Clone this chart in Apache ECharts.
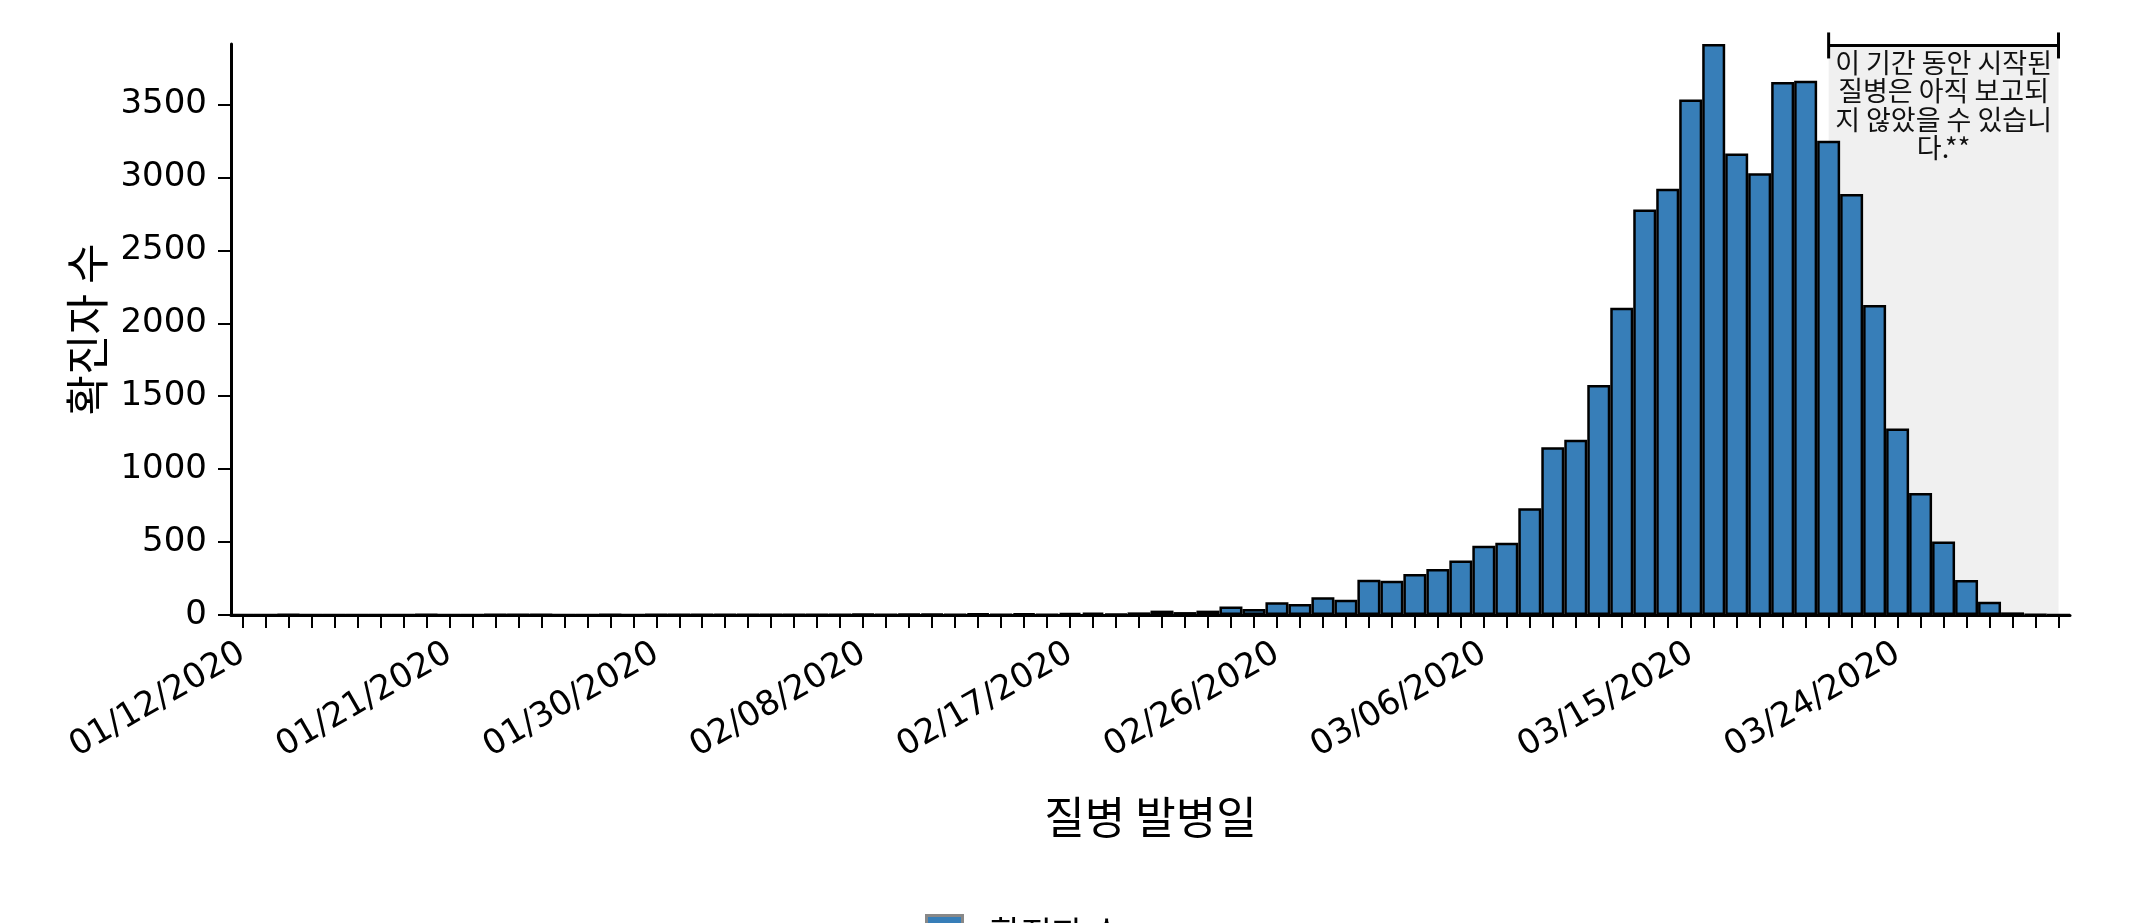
<!DOCTYPE html>
<html>
<head>
<meta charset="utf-8">
<script src="https://cdn.jsdelivr.net/npm/echarts@6/dist/echarts.min.js"></script>
<style>
  html, body { margin: 0; padding: 0; background: #ffffff; }
  #chart { width: 2150px; height: 923px; }
</style>
</head>
<body>
<div id="chart"></div>
<script>
// ---- data ----
const categories = [
  '01/12/2020','01/13/2020','01/14/2020','01/15/2020','01/16/2020','01/17/2020','01/18/2020','01/19/2020','01/20/2020','01/21/2020',
  '01/22/2020','01/23/2020','01/24/2020','01/25/2020','01/26/2020','01/27/2020','01/28/2020','01/29/2020','01/30/2020','01/31/2020',
  '02/01/2020','02/02/2020','02/03/2020','02/04/2020','02/05/2020','02/06/2020','02/07/2020','02/08/2020','02/09/2020','02/10/2020',
  '02/11/2020','02/12/2020','02/13/2020','02/14/2020','02/15/2020','02/16/2020','02/17/2020','02/18/2020','02/19/2020','02/20/2020',
  '02/21/2020','02/22/2020','02/23/2020','02/24/2020','02/25/2020','02/26/2020','02/27/2020','02/28/2020','02/29/2020','03/01/2020',
  '03/02/2020','03/03/2020','03/04/2020','03/05/2020','03/06/2020','03/07/2020','03/08/2020','03/09/2020','03/10/2020','03/11/2020',
  '03/12/2020','03/13/2020','03/14/2020','03/15/2020','03/16/2020','03/17/2020','03/18/2020','03/19/2020','03/20/2020','03/21/2020',
  '03/22/2020','03/23/2020','03/24/2020','03/25/2020','03/26/2020','03/27/2020','03/28/2020','03/29/2020','03/30/2020','03/31/2020'
];
const caseCounts = [
  1, 0, 3, 1, 1, 1, 0, 1, 2, 1,
  1, 2, 3, 3, 1, 1, 2, 1, 2, 2,
  4, 5, 2, 2, 2, 3, 3, 6, 4, 7,
  8, 4, 9, 5, 10, 3, 14, 16, 7, 18,
  30, 20, 30, 59, 41, 87, 75, 121, 105, 242,
  235, 281, 315, 374, 474, 496, 732, 1150, 1202, 1577,
  2107, 2781, 2923, 3535, 3915, 3165, 3029, 3655, 3663, 3251,
  2886, 2126, 1278, 837, 504, 240, 90, 18, 3, 0
];
const seriesName = '확진자 수';
const xAxisTitle = '질병 발병일';
const yAxisTitle = '확진자 수';
const yTickInterval = 500;
const pendingStart = '03/21/2020';
const pendingEnd = '03/31/2020';
const pendingNote = '이 기간 동안 시작된\n질병은 아직 보고되\n지 않았을 수 있습니\n다.**';
const bracketValue = 3905;

const KR = "'Noto Sans CJK KR', 'Noto Sans', sans-serif";
const NUM = "'DejaVu Sans', 'Noto Sans CJK KR', sans-serif";

const chart = echarts.init(document.getElementById('chart'), null, { renderer: 'canvas' });
chart.setOption({
  animation: false,
  backgroundColor: '#ffffff',
  grid: { left: 231, right: 80, top: 44, bottom: 308, containLabel: false },
  legend: {
    data: [{ name: seriesName, itemStyle: { color: '#377eb8', borderColor: '#888888', borderWidth: 3 } }],
    left: 920, top: 909,
    itemWidth: 36, itemHeight: 36,
    icon: 'rect',
    textStyle: { fontFamily: KR, fontSize: 34, color: '#000', padding: [0, 0, 0, 22] }
  },
  xAxis: {
    type: 'category',
    data: categories,
    boundaryGap: true,
    name: xAxisTitle,
    nameLocation: 'middle',
    nameGap: 180,
    nameTextStyle: { fontFamily: KR, fontSize: 44, color: '#000' },
    axisLine: { lineStyle: { color: '#000', width: 3 } },
    axisTick: { show: true, interval: 0, alignWithLabel: true, length: 13, lineStyle: { color: '#000', width: 2 } },
    axisLabel: { interval: 8, rotate: 30, margin: 36, fontFamily: NUM, fontSize: 34, color: '#000' },
    splitLine: { show: false }
  },
  yAxis: {
    type: 'value',
    min: 0,
    max: 'dataMax',
    interval: yTickInterval,
    name: yAxisTitle,
    nameLocation: 'middle',
    nameGap: 122,
    nameRotate: 90,
    nameTextStyle: { fontFamily: KR, fontSize: 44, color: '#000' },
    axisLine: { show: true, lineStyle: { color: '#000', width: 3 } },
    axisTick: { show: true, length: 13, lineStyle: { color: '#000', width: 2 } },
    axisLabel: { margin: 24, fontFamily: NUM, fontSize: 34, color: '#000', showMaxLabel: false,
      formatter: function (v) { return String(v); } },
    splitLine: { show: false }
  },
  series: [
    {
      name: 'pending',
      type: 'line',
      data: [],
      z: 1,
      silent: true,
      markArea: {
        silent: true,
        itemStyle: { color: '#f0f0f0' },
        label: {
          show: true, position: 'insideTop', distance: 4,
          fontFamily: KR, fontSize: 27, lineHeight: 28.5, color: '#111', align: 'center'
        },
        data: [[{ xAxis: pendingStart, name: pendingNote }, { xAxis: pendingEnd }]]
      },
      markLine: {
        silent: true,
        symbol: ['rect', 'rect'],
        symbolSize: [26, 3],
        label: { show: false },
        lineStyle: { color: '#000', width: 3, type: 'solid' },
        data: [[{ coord: [pendingStart, bracketValue] }, { coord: [pendingEnd, bracketValue] }]]
      }
    },
    {
      name: seriesName,
      type: 'bar',
      data: caseCounts,
      z: 2,
      barCategoryGap: '0%',
      itemStyle: { color: '#377eb8', borderColor: '#000', borderWidth: 2.5 }
    }
  ]
});
</script>
</body>
</html>
